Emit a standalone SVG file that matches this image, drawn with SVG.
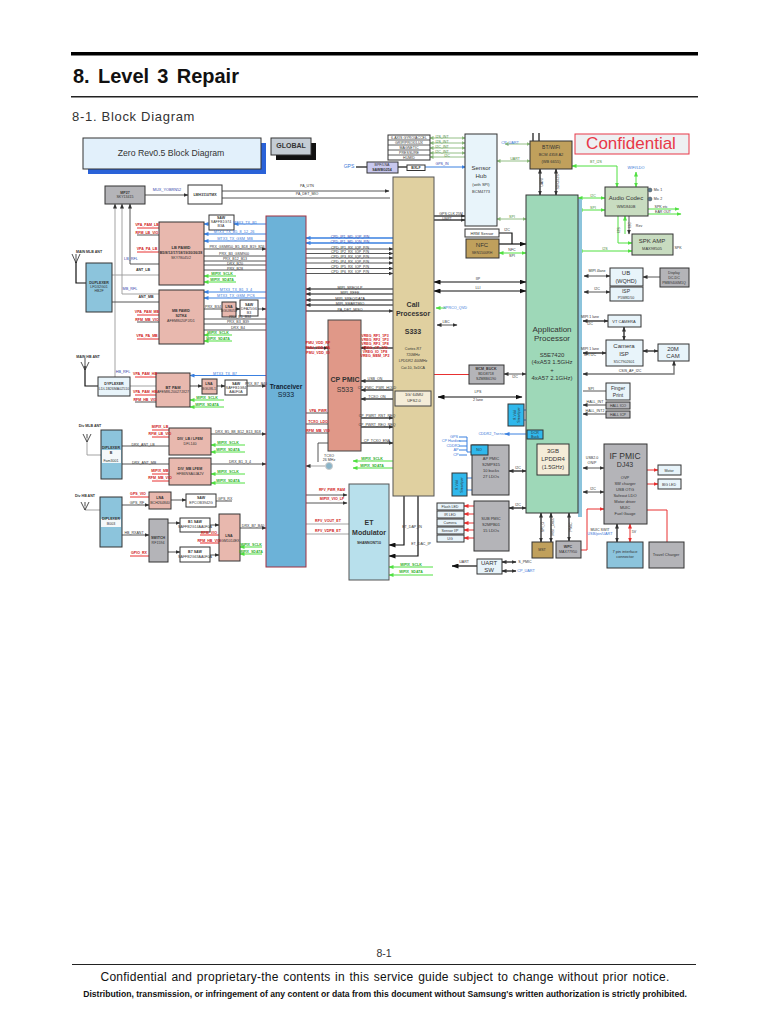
<svg xmlns="http://www.w3.org/2000/svg" width="768" height="1024" viewBox="0 0 768 1024">
<style>
text{font-family:"Liberation Sans",Arial,sans-serif;text-anchor:middle;fill:#333}
.p{text-anchor:start}
.s{font-size:3.6px}
.m{font-size:5px}
.n{font-size:6.5px}
.la{font-size:8px}
.bd{font-weight:bold}
.rt{fill:#d02020;font-size:3.6px;font-weight:bold}
.bt{fill:#3a78d8;font-size:3.8px}
.gt{fill:#30b030;font-size:3.6px;font-weight:bold}
.b{stroke:#333;stroke-width:1}
.pk{fill:#e8b8ae}.bl{fill:#8cc4dc}.gy{fill:#b4b4b8}.wh{fill:#fff}.pale{fill:#e8f4fa}.sg{fill:#c8dcc0}.tan{fill:#c0a05c}.cy{fill:#30b8ec}
#wires path{fill:none}
.d{stroke:#444;stroke-width:.9}
.k{stroke:#111;stroke-width:1.2}
.a{stroke:#999;stroke-width:.9}
.u{stroke:#3a80e0;stroke-width:1}
.ut{stroke:#3a80e0;stroke-width:1.6}
.g{stroke:#50e040;stroke-width:1}
.gg{stroke:#88b878;stroke-width:.9}
.r{stroke:#e83030;stroke-width:1}
</style>
<defs>
<marker id="ad" markerWidth="5" markerHeight="4" refX="4.5" refY="2" orient="auto-start-reverse" markerUnits="userSpaceOnUse"><path d="M0 0L5 2L0 4z" fill="#333"/></marker>
<marker id="ak" markerWidth="7" markerHeight="5" refX="6.5" refY="2.5" orient="auto-start-reverse" markerUnits="userSpaceOnUse"><path d="M0 0L7 2.5L0 5z" fill="#111"/></marker>
<marker id="ab" markerWidth="5" markerHeight="4" refX="4.5" refY="2" orient="auto-start-reverse" markerUnits="userSpaceOnUse"><path d="M0 0L5 2L0 4z" fill="#3a80e0"/></marker>
<marker id="ag" markerWidth="5" markerHeight="4" refX="4.5" refY="2" orient="auto-start-reverse" markerUnits="userSpaceOnUse"><path d="M0 0L5 2L0 4z" fill="#50e040"/></marker>
<marker id="ar" markerWidth="5" markerHeight="4" refX="4.5" refY="2" orient="auto-start-reverse" markerUnits="userSpaceOnUse"><path d="M0 0L5 2L0 4z" fill="#e83030"/></marker>
<marker id="ae" markerWidth="4" markerHeight="4" refX="3.5" refY="2" orient="auto-start-reverse" markerUnits="userSpaceOnUse"><path d="M0 0L4 2L0 4z" fill="#88b878"/></marker>
</defs>

<g id="page">
<rect x="71" y="52" width="627" height="3.5" fill="#000"/>
<rect x="71" y="96" width="627" height="1.5" fill="#222"/>
<text x="73" y="83" class="p bd" style="font-size:20px;word-spacing:2.7px;fill:#111">8. Level 3 Repair</text>
<text x="72" y="121" class="p" style="font-size:13px;letter-spacing:.7px">8-1. Block Diagram</text>
<text x="384" y="957" style="font-size:10.5px">8-1</text>
<rect x="72" y="964" width="624" height="1" fill="#222"/>
<text x="385" y="981" style="font-size:12px;letter-spacing:.25px;word-spacing:1px;fill:#111">Confidential and proprietary-the contents in this service guide subject to change without prior notice.</text>
<text x="385" y="997" class="bd" style="font-size:8.6px;fill:#111">Distribution, transmission, or infringement of any content or data from this document without Samsung's written authorization is strictly prohibited.</text>
</g>

<g id="wires">
<path class="d" d="M145 195H188" marker-end="url(#ad)"/>
<path class="d" d="M222 191H389" marker-end="url(#ad)"/>
<path class="d" d="M222 198H390"/>
<path class="a" d="M115 377V204" marker-end="url(#ad)"/>
<path class="a" d="M159 294H122V204" marker-end="url(#ad)"/>
<path class="d" d="M159 264H130V204" marker-end="url(#ad)"/>
<path class="k" d="M76 262V283H86"/>
<path class="a" d="M112 275H159"/>
<path class="d" d="M112 302H159"/>
<path class="r" d="M137 228H159M137 252H159M137 315H159M137 339H159"/>
<path class="d" d="M137 235H159M137 322H159"/>
<path class="u" d="M266 224H234" marker-end="url(#ab)"/>
<path class="u" d="M209 224H204" marker-end="url(#ab)"/>
<path class="u" d="M266 234H204" marker-end="url(#ab)"/>
<path class="u" d="M266 241H204" marker-end="url(#ab)"/>
<path class="d" d="M204 249H266" marker-end="url(#ad)"/>
<path class="d" d="M204 256H266M204 261H266M204 265H266M204 270H266"/>
<path class="g" d="M236 276H204" marker-end="url(#ag)"/>
<path class="g" d="M236 282H204" marker-end="url(#ag)"/>
<path class="u" d="M266 292H204" marker-end="url(#ab)"/>
<path class="u" d="M266 298H204" marker-end="url(#ab)"/>
<path class="d" d="M204 309H222M236 309H240" marker-end="url(#ad)"/>
<path class="d" d="M258 309H266" marker-end="url(#ad)"/>
<path class="d" d="M204 319H266M204 324H266M204 330H266"/>
<path class="g" d="M232 335H204" marker-end="url(#ag)"/>
<path class="g" d="M232 341H204" marker-end="url(#ag)"/>
<path class="k" d="M85 366V386H98"/>
<path class="a" d="M130 386H156"/>
<path class="u" d="M266 375.5H190" marker-end="url(#ab)"/>
<path class="r" d="M135 377H156M135 395H156"/>
<path class="d" d="M135 402H156"/>
<path class="d" d="M190 386H202" marker-end="url(#ad)"/>
<path class="d" d="M217 386H225" marker-end="url(#ad)"/>
<path class="d" d="M247 386H266" marker-end="url(#ad)"/>
<path class="g" d="M224 400H190" marker-end="url(#ag)"/>
<path class="g" d="M224 407H190" marker-end="url(#ag)"/>
<path class="a" d="M87 438V455H101"/>
<path class="d" d="M122 446H169M122 464H169"/>
<path class="r" d="M152 430H169M152 437H169M152 474H169M152 481H169"/>
<path class="d" d="M211 434H266" marker-end="url(#ad)"/>
<path class="g" d="M245 445H211" marker-end="url(#ag)"/>
<path class="g" d="M245 452H211" marker-end="url(#ag)"/>
<path class="d" d="M211 464H266" marker-end="url(#ad)"/>
<path class="g" d="M245 474H211" marker-end="url(#ag)"/>
<path class="g" d="M245 483H211" marker-end="url(#ag)"/>
<path class="a" d="M85 506V510H100"/>
<path class="r" d="M130 497H149"/>
<path class="d" d="M122 505H149" marker-end="url(#ad)"/>
<path class="d" d="M171 500H186" marker-end="url(#ad)"/>
<path class="d" d="M216 501H232"/>
<path class="d" d="M122 535H149" marker-end="url(#ad)"/>
<path class="d" d="M168 523H180" marker-end="url(#ad)"/>
<path class="d" d="M168 552H180" marker-end="url(#ad)"/>
<path class="r" d="M130 556H149"/>
<path class="r" d="M200 535H219M200 543H219"/>
<path class="d" d="M210 525H219" marker-end="url(#ad)"/>
<path class="d" d="M210 555H219" marker-end="url(#ad)"/>
<path class="d" d="M240 528H266" marker-end="url(#ad)"/>
<path class="g" d="M262 547H240" marker-end="url(#ag)"/>
<path class="g" d="M262 554H240" marker-end="url(#ag)"/>

<path class="ut" d="M393 238H306" marker-end="url(#ab)"/>
<path class="ut" d="M393 243H306" marker-end="url(#ab)"/>
<path class="d" d="M306 249H393" marker-end="url(#ad)"/>
<path class="d" d="M306 253.5H393" marker-end="url(#ad)"/>
<path class="d" d="M306 258H393" marker-end="url(#ad)"/>
<path class="d" d="M306 263H393" marker-end="url(#ad)"/>
<path class="d" d="M306 268.5H393" marker-end="url(#ad)"/>
<path class="d" d="M306 273.5H393" marker-end="url(#ad)"/>
<path class="k" d="M393 289H306" marker-end="url(#ad)"/>
<path class="k" d="M393 294H306" marker-end="url(#ad)"/>
<path class="k" d="M393 300H306" marker-end="url(#ad)"/>
<path class="k" d="M393 305H306" marker-end="url(#ad)"/>
<path class="k" d="M306 311H393" marker-end="url(#ad)"/>
<path class="k" d="M306 348H328" marker-end="url(#ad)"/>
<path class="k" d="M393 348H361" marker-end="url(#ad)"/>
<path class="k" d="M393 381H361" marker-end="url(#ad)"/>
<path class="k" d="M393 390H361" marker-end="url(#ad)"/>
<path class="k" d="M393 399H361" marker-end="url(#ad)"/>
<path class="k" d="M361 418H393" marker-end="url(#ad)"/>
<path class="k" d="M361 427H393" marker-end="url(#ad)"/>
<path class="k" d="M361 443H393" marker-end="url(#ad)"/>
<path class="d" d="M306 413H328M306 424H328M306 433H328"/>
<path class="d" d="M328 443H318V462"/>
<path class="a" d="M325 466H306" marker-end="url(#ad)"/>
<path class="g" d="M393 461H353" marker-end="url(#ag)"/>
<path class="g" d="M393 468H353" marker-end="url(#ag)"/>
<path class="d" d="M306 495H347" marker-end="url(#ad)"/>
<path class="d" d="M306 503H347" marker-end="url(#ad)"/>
<path class="a" d="M306 524H349M306 534H349"/>
<path class="k" d="M404 496V545H389" marker-end="url(#ak)"/>
<path class="k" d="M418 496V556H389" marker-end="url(#ak)"/>
<path class="g" d="M433 567H389" marker-end="url(#ag)"/>
<path class="g" d="M433 575H389" marker-end="url(#ag)"/>

<path class="k" d="M356 167H367"/>
<path class="k" d="M398 167H407"/>
<path class="u" d="M425 167H466" marker-end="url(#ab)"/>
<path class="gg" d="M430 138H465" marker-start="url(#ae)" marker-end="url(#ae)"/>
<path class="gg" d="M430 143H465" marker-start="url(#ae)" marker-end="url(#ae)"/>
<path class="gg" d="M430 148H465" marker-start="url(#ae)" marker-end="url(#ae)"/>
<path class="gg" d="M430 153H465" marker-start="url(#ae)" marker-end="url(#ae)"/>
<path class="gg" d="M430 157H465" marker-start="url(#ae)"/>
<path class="k" d="M434 216H465" marker-end="url(#ad)"/>
<path class="k" d="M434 220H465" marker-end="url(#ad)"/>
<path class="k" d="M434 282H526" marker-end="url(#ak)" marker-start="url(#ak)"/>
<path class="k" d="M434 291H526" marker-end="url(#ak)" marker-start="url(#ak)"/>
<path class="g" d="M436 308H446" marker-start="url(#ag)"/>
<path class="d" d="M437 325H457" marker-start="url(#ad)" marker-end="url(#ad)"/>
<path class="gg" d="M505 144H530" marker-start="url(#ae)" marker-end="url(#ae)"/>
<path class="gg" d="M497 161H530" marker-start="url(#ae)" marker-end="url(#ae)"/>
<path class="k" d="M540 169V195" marker-start="url(#ad)" marker-end="url(#ad)"/>
<path class="k" d="M556 169V195" marker-start="url(#ad)" marker-end="url(#ad)"/>
<path class="k" d="M533 141V133M539 141V133" />
<path class="g" d="M572 166H617V187" marker-start="url(#ag)" marker-end="url(#ag)"/>
<path class="g" d="M636 172V187" marker-start="url(#ag)" marker-end="url(#ag)"/>
<path class="g" d="M578 198H605" marker-start="url(#ag)" marker-end="url(#ag)"/>
<path class="g" d="M578 210H605" marker-start="url(#ag)" marker-end="url(#ag)"/>
<path class="g" d="M618 216V243H632" marker-end="url(#ag)"/>
<path class="g" d="M625 234V216" marker-end="url(#ag)"/>
<path class="d" d="M629 216V234" marker-end="url(#ad)"/>
<path class="g" d="M648 209H679" marker-end="url(#ag)"/>
<path class="g" d="M648 214H681" marker-end="url(#ag)"/>
<path class="g" d="M578 251H632" marker-start="url(#ag)" marker-end="url(#ag)"/>
<path class="gg" d="M497 219H526" marker-start="url(#ae)" marker-end="url(#ae)"/>
<path class="k" d="M499 233H512V244" />
<path class="k" d="M499 244H526" marker-end="url(#ak)"/>
<path class="g" d="M499 253H526" marker-start="url(#ag)" marker-end="url(#ag)"/>
<path class="d" d="M584 276H610" marker-start="url(#ad)" marker-end="url(#ad)"/>
<path class="d" d="M584 292H610" marker-start="url(#ad)" marker-end="url(#ad)"/>
<path class="d" d="M660 277H643" marker-end="url(#ad)"/>
<path class="k" d="M583 321H608" marker-start="url(#ad)" marker-end="url(#ad)"/>
<path class="k" d="M624 327V340" marker-start="url(#ad)" marker-end="url(#ad)"/>
<path class="k" d="M583 353H606" marker-start="url(#ad)" marker-end="url(#ad)"/>
<path class="k" d="M643 351H658" marker-start="url(#ad)" marker-end="url(#ad)"/>
<path class="d" style="stroke-width:1.4;stroke:#777" d="M583 374H674V361" marker-start="url(#ad)" marker-end="url(#ad)"/>
<path class="d" d="M504 374H526" marker-start="url(#ad)" marker-end="url(#ad)"/>
<path class="r" d="M469 374.5H413V391" marker-end="url(#ar)"/>
<path class="k" d="M438 397H522" marker-start="url(#ak)" marker-end="url(#ak)"/>
<path class="d" d="M583 391H606"/>
<path class="d" d="M606 405H583" marker-end="url(#ad)"/>
<path class="d" d="M606 414H583" marker-end="url(#ad)"/>
<path class="u" d="M524 410H526M524 420H526"/>
<path class="u" d="M527 434H505" marker-end="url(#ab)"/>
<path class="u" d="M471 452H467V437H459M467 441H459M467 446H459M467 450H459M467 455H459"/>
<path class="u" d="M467 478H472M467 490H472"/>
<path class="k" d="M509 471H526" marker-start="url(#ad)" marker-end="url(#ad)"/>
<path class="k" d="M509 508H526" marker-start="url(#ad)" marker-end="url(#ad)"/>
<path class="r" d="M474 506H464" marker-end="url(#ar)"/>
<path class="r" d="M474 514H464" marker-end="url(#ar)"/>
<path class="r" d="M474 523H464" marker-end="url(#ar)"/>
<path class="r" d="M474 530H464" marker-end="url(#ar)"/>
<path class="r" d="M474 538H464" marker-end="url(#ar)"/>
<path class="d" d="M583 468H604" marker-start="url(#ad)" marker-end="url(#ad)"/>
<path class="d" d="M583 492H604" marker-start="url(#ad)" marker-end="url(#ad)"/>
<path class="r" d="M647 470H658" marker-end="url(#ar)"/>
<path class="r" d="M647 484H658" marker-end="url(#ar)"/>
<path class="k" d="M617 524V542" marker-start="url(#ad)" marker-end="url(#ad)"/>
<path class="r" d="M630 524V542" marker-start="url(#ar)" marker-end="url(#ar)"/>
<path class="r" d="M647 510H667V542"/>
<path class="r" d="M581 550H587V509H604" marker-end="url(#ar)"/>
<path class="k" d="M541 513V542" marker-start="url(#ad)" marker-end="url(#ad)"/>
<path class="k" d="M551 513V542" marker-start="url(#ad)" marker-end="url(#ad)"/>
<path class="k" d="M569 513V541" marker-start="url(#ad)" marker-end="url(#ad)"/>
<path class="k" d="M477 566H452" marker-end="url(#ak)"/>
<path class="k" d="M502 562H516" marker-start="url(#ad)" marker-end="url(#ad)"/>
<path class="k" d="M502 571H516" marker-start="url(#ad)" marker-end="url(#ad)"/>
</g>

<g id="ants" fill="none" stroke="#222" stroke-width=".8">
<path d="M76 263V254M72 254L76 263L80 254"/>
<path d="M85 368V358M81 362L85 370L89 362"/>
<path d="M87 438V434M83 434L87 442L91 434"/>
<path d="M85 506V502M81 502L85 510L89 502"/>
</g>

<g id="titlebox"><rect x="88" y="143" width="178" height="31" fill="#2a62d8"/><rect class="b" x="83" y="138" width="178" height="31" fill="#e2f0fb"/><text x="171" y="156" style="font-size:8.700px">Zero Rev0.5 Block Diagram</text></g>
<g id="global"><rect x="276" y="143" width="40" height="17" fill="#111"/><rect class="b" x="271" y="138" width="40" height="17" fill="#c4ccd4"/><text x="291" y="148" class="bd" style="font-size:7px">GLOBAL</text></g>
<g id="mp27"><rect class="gy b" x="105" y="186" width="40" height="18"/><text x="125" y="194" class="s bd">MP27</text><text x="125" y="198" class="s">SKY13415</text></g>
<g id="lm"><rect class="wh b" x="188" y="185" width="34" height="19"/><text x="205" y="196" class="s bd">LMH3110TMX</text></g>
<g id="lbpamid"><rect class="pk b" x="159" y="222" width="45" height="63"/><text x="181" y="249" class="m bd" style="font-size:4px">LB PAMID</text><text x="181" y="254" class="s bd">B5/8/12/17/18/19/20/26/28</text><text x="181" y="259" class="s">SKY78045/2</text></g>
<g id="mbpamid"><rect class="pk b" x="159" y="290" width="45" height="54"/><text x="181" y="312" class="s bd">MB PAMID</text><text x="181" y="317" class="s bd">S2TK4</text><text x="181" y="322" class="s">AFEM8020PJ/D1</text></g>
<g id="saw1"><rect class="wh b" x="209" y="215" width="25" height="15"/><text x="221" y="219" class="s bd">SAW</text><text x="221" y="223" class="s">SAFFB1G74</text><text x="221" y="227" class="s">B3A</text></g>
<g id="lna1"><rect class="pk b" x="222" y="302" width="14" height="15"/><text x="229" y="308" class="s bd">LNA</text><text x="229" y="312" class="s">BGU8051</text></g>
<g id="saw2"><rect class="wh b" x="240" y="300" width="18" height="16"/><text x="249" y="306" class="s bd">SAW</text><text x="249" y="310" class="s">DFA25G6</text><text x="249" y="314" class="s">B3</text></g>
<g id="dup1"><rect class="bl b" x="86" y="263" width="26" height="49"/><text x="99" y="284" class="s bd">DUPLEXER</text><text x="99" y="288" class="s">LFD32G01</text><text x="99" y="292" class="s">HB2F</text></g>
<g id="trx"><rect x="266" y="216" width="40" height="351" fill="#6cb2d8" stroke="#a03040"/><text x="286" y="389" class="n bd" style="fill:#123">Tranceiver</text><text x="286" y="397" class="n" style="fill:#123;font-size:7px">S933</text></g>
<g id="dup2"><rect class="pale b" x="98" y="377" width="32" height="19"/><text x="114" y="385" class="s bd">DYPLEXER</text><text x="114" y="390" class="s">LDL1B26MA02510</text></g>
<g id="btpam"><rect class="pk b" x="156" y="373" width="34" height="34"/><text x="173" y="389" class="m bd" style="font-size:4px">BT PAM</text><text x="173" y="393" class="s">AFEM8L20027JX27</text></g>
<g id="lna2"><rect class="pk b" x="202" y="379" width="15" height="15"/><text x="209" y="385" class="s bd">LNA</text><text x="209" y="390" class="s">BGU8L1</text></g>
<g id="saw3"><rect class="wh b" x="225" y="380" width="22" height="15"/><text x="236" y="385" class="s bd">SAW</text><text x="236" y="389" class="s">SAFFB1G84</text><text x="236" y="393" class="s">AA0F0A</text></g>
<g id="dup3"><rect class="bl b" x="101" y="430" width="21" height="49"/><rect x="102" y="450" width="19" height="13" fill="#f4f8fa"/><text x="111" y="449" class="s bd">DIPLEXER</text><text x="111" y="454" class="s bd">B</text><text x="111" y="462" class="s">Fam3001</text></g>
<g id="divlb"><rect class="pk b" x="169" y="428" width="42" height="27"/><text x="190" y="440" class="s bd">DIV_LB / LFEM</text><text x="190" y="445" class="s">DFL140</text></g>
<g id="divmb"><rect class="pk b" x="169" y="458" width="42" height="27"/><text x="190" y="470" class="s bd">DIV_MB LFEM</text><text x="190" y="475" class="s">HFB6NSA0JA2V</text></g>
<g id="dup4"><rect class="bl b" x="100" y="497" width="22" height="50"/><rect x="101" y="519" width="20" height="8" fill="#f4f8fa"/><text x="111" y="520" class="s bd">DIPLEXER</text><text x="111" y="525" class="s">B003</text></g>
<g id="lna3"><rect class="pk b" x="149" y="492" width="22" height="17"/><text x="160" y="499" class="s bd">LNA</text><text x="160" y="504" class="s">BCH264840</text></g>
<g id="saw4"><rect class="wh b" x="186" y="494" width="30" height="13"/><text x="201" y="499" class="s bd">SAW</text><text x="201" y="504" class="s">EPCOB3942G</text></g>
<g id="switch"><rect class="gy b" x="149" y="519" width="19" height="43"/><text x="158" y="539" class="s bd">SWITCH</text><text x="158" y="544" class="s">RF1594</text></g>
<g id="b1saw"><rect class="wh b" x="180" y="518" width="30" height="14"/><text x="195" y="523" class="s bd">B1 SAW</text><text x="195" y="528" class="s">SAFFB2G14AA0F0A</text></g>
<g id="b7saw"><rect class="wh b" x="180" y="547" width="30" height="15"/><text x="195" y="553" class="s bd">B7 SAW</text><text x="195" y="558" class="s">SAFFB2G63AA0F0A</text></g>
<g id="lna4"><rect class="pk b" x="219" y="514" width="21" height="47"/><text x="229" y="537" class="s bd">LNA</text><text x="229" y="542" class="s">BGM1014EX</text></g>

<g id="cppmic"><rect x="328" y="320" width="33" height="131" fill="#e09888" stroke="#444"/><text x="345" y="382" class="n bd" style="font-size:7px">CP PMIC</text><text x="345" y="392" class="n" style="font-size:7px">S533</text></g>
<g id="callp"><rect x="393" y="177" width="41" height="319" fill="#e0d0a0" stroke="#555"/><text x="413" y="307" class="n bd" style="font-size:7px">Call</text><text x="413" y="316" class="n bd" style="font-size:7px">Processor</text><text x="413" y="334" class="n bd" style="font-size:7px">S333</text><text x="413" y="350" class="s">Cortex-R7</text><text x="413" y="356" class="s">720MHz</text><text x="413" y="362" class="s">LPDDR2 400MHz</text><text x="413" y="369" class="s">Cat.10, 3xDCA</text></g>
<g id="tsv"><rect x="395" y="391" width="36" height="15" fill="#f4ecd8" stroke="#444"/><text x="414" y="396" class="s" style="font-size:4px">1G/ 64MU</text><text x="414" y="402" class="s" style="font-size:4px">UFS2.0</text></g>
<g id="et"><rect x="349" y="484" width="40" height="96" fill="#b8e0ec" stroke="#555"/><text x="369" y="525" class="n bd" style="font-size:7px">ET</text><text x="369" y="535" class="n bd" style="font-size:7px">Modulator</text><text x="369" y="544" class="s bd">SHANNON710</text></g>
<g id="tcxo"><circle cx="329" cy="466" r="3.5" fill="#8ab4c8" stroke="#ccc"/><text x="329" y="457" class="s">TCXO</text><text x="329" y="461" class="s">26 MHz</text></g>
<g id="sensors"><rect class="wh b" x="388" y="135" width="42" height="25"/><path d="M388 140H430M388 145H430M388 150H430M388 155H430" stroke="#333" stroke-width=".8"/><text x="409" y="139" class="s">6-AXIS GYRO/ACCEL</text><text x="409" y="144" class="s">GRIP/PROX/LUX</text><text x="409" y="149" class="s">MAGNETIC</text><text x="409" y="154" class="s">PRESSURE</text><text x="409" y="159" class="s">HUMID</text></g>
<g id="gpsf"><rect x="367" y="162" width="31" height="11" fill="#c8c8ee" stroke="#333"/><text x="382" y="166" class="s">BPF/LNA</text><text x="382" y="171" class="s bd">SAWBG254</text></g>
<g id="gpsb"><rect class="wh b" x="407" y="165" width="18" height="5.500"/><text x="416" y="169.200" class="s bd">BXLF</text></g>
<g id="hub"><rect class="pale b" x="465" y="134" width="32" height="92"/><text x="481" y="170" class="m" style="font-size:6px">Sensor</text><text x="481" y="178" class="m" style="font-size:6px">Hub</text><text x="481" y="186" class="s" style="font-size:4px">(with SPI)</text><text x="481" y="193" class="s" style="font-size:4px">BCM4773</text></g>
<g id="hrm"><rect class="wh b" x="465" y="229" width="34" height="8"/><text x="482" y="235" class="s" style="font-size:4px">HRM Sensor</text></g>
<g id="nfc"><rect class="tan b" x="466" y="239" width="33" height="19"/><text x="482" y="247" class="m" style="font-size:6px">NFC</text><text x="482" y="254" class="s">SEN1500RH</text></g>
<g id="bt"><rect class="tan b" x="530" y="141" width="42" height="28"/><text x="551" y="149" class="m">BT/WiFi</text><text x="551" y="156" class="s" style="font-size:4px">BCM 4358 A2</text><text x="551" y="163" class="s" style="font-size:4px">(WB 6655)</text></g>
<g id="conf"><rect x="575" y="134" width="114" height="20" fill="#eef0f2" stroke="#e83848" stroke-width="1"/><text x="631" y="149" style="font-size:17px;fill:#e83848">Confidential</text></g>
<g id="codec"><rect class="sg b" x="605" y="187" width="43" height="29"/><text x="626" y="200" class="m" style="font-size:6px">Audio Codec</text><text x="626" y="208" class="s" style="font-size:4px">WM1840B</text></g>
<g id="spk"><rect class="sg b" x="632" y="234" width="41" height="21"/><text x="652" y="243" class="m" style="font-size:6px">SPK AMP</text><text x="652" y="250" class="s" style="font-size:4px">MAX98505</text></g>
<g id="ap"><rect x="578" y="199" width="4" height="318" fill="#8cc4dc"/><rect x="526" y="195" width="52" height="318" fill="#9ed8b8" stroke="#333"/><text x="552" y="332" class="n" style="font-size:8px">Application</text><text x="552" y="341" class="n" style="font-size:8px">Processor</text><text x="552" y="357" class="m" style="font-size:6px">S5E7420</text><text x="552" y="364" class="m" style="font-size:6px">(4xA53 1.5GHz</text><text x="552" y="372" class="m" style="font-size:6px">+</text><text x="552" y="380" class="m" style="font-size:6px">4xA57 2.1GHz)</text></g>
<g id="ub"><rect class="pale b" x="610" y="268" width="33" height="18"/><text x="626" y="275" class="m" style="font-size:6px">UB</text><text x="626" y="283" class="m" style="font-size:5.500px">(WQHD)</text></g>
<g id="isp1"><rect class="pale b" x="610" y="287" width="33" height="14"/><text x="626" y="293" class="m">ISP</text><text x="626" y="299" class="s">P5W8D50</text></g>
<g id="disp"><rect class="gy b" x="660" y="268" width="29" height="19"/><text x="674" y="274" class="s">Display</text><text x="674" y="279" class="s">DC-DC</text><text x="674" y="284" class="s">PMB9406M1Q</text></g>
<g id="vt"><rect class="pale b" x="608" y="315" width="33" height="12"/><text x="624" y="323" class="s" style="font-size:4px">VT CAMERA</text></g>
<g id="camisp"><rect class="pale b" x="606" y="340" width="37" height="26"/><text x="624" y="348" class="m" style="font-size:6px">Camera</text><text x="624" y="356" class="m" style="font-size:6px">ISP</text><text x="624" y="363" class="s">S5C7902601</text></g>
<g id="cam"><rect class="pale b" x="658" y="344" width="31" height="17"/><text x="673" y="351" class="m" style="font-size:6px">20M</text><text x="673" y="358" class="m" style="font-size:6px">CAM</text></g>
<g id="mcm"><rect class="gy b" x="469" y="365" width="35" height="19"/><text x="486" y="370" class="s bd">MCM_BUCK</text><text x="486" y="375" class="s">BDD8718</text><text x="486" y="380" class="s">SZM8B6190</text></g>
<g id="finger"><rect class="pale b" x="606" y="383" width="24" height="17"/><text x="618" y="390" class="m">Finger</text><text x="618" y="397" class="m">Print</text></g>
<g id="hall1"><rect class="gy b" x="606" y="402" width="24" height="7"/><text x="618" y="407" class="s">HALL ICO</text></g>
<g id="hall2"><rect class="gy b" x="606" y="411" width="24" height="7"/><text x="618" y="416" class="s">HALL ICP</text></g>
<g id="bb1"><rect class="cy b" x="508" y="404" width="16" height="22"/><text x="516" y="415" class="s" transform="rotate(-90 516 415)">8-Vdd</text><text x="520" y="415" class="s" transform="rotate(-90 520 415)">Smartpwr</text></g>
<g id="bb2"><rect class="cy b" x="527" y="430" width="16" height="9"/><text x="535" y="434" class="s">DCR</text><text x="535" y="438" class="s">Buck</text></g>
<g id="ram"><rect x="537" y="444" width="32" height="31" fill="#f4ecd8" stroke="#333"/><text x="553" y="453" class="m" style="font-size:6px">3GB</text><text x="553" y="461" class="m" style="font-size:6px">LPDDR4</text><text x="553" y="469" class="m" style="font-size:5.500px">(1.5GHz)</text></g>
<g id="ifpmic"><rect class="gy b" x="604" y="444" width="43" height="80"/><text x="625" y="459" class="n" style="font-size:8.500px">IF PMIC</text><text x="625" y="467" class="m" style="font-size:7px">DJ43</text><text x="625" y="479" class="s" style="font-size:4px">OVP</text><text x="625" y="485" class="s" style="font-size:4px">SW charger</text><text x="625" y="491" class="s" style="font-size:4px">USB OTG</text><text x="625" y="497" class="s" style="font-size:4px">Safeout LDO</text><text x="625" y="503" class="s" style="font-size:4px">Motor driver</text><text x="625" y="509" class="s" style="font-size:4px">MUIC</text><text x="625" y="515" class="s" style="font-size:4px">Fuel Gauge</text></g>
<g id="motor"><rect class="pale b" x="658" y="465" width="23" height="10"/><text x="669" y="471.500" class="s">Motor</text></g>
<g id="led"><rect class="pale b" x="658" y="479" width="23" height="10"/><text x="669" y="485.500" class="s">BIG LED</text></g>
<g id="appmic"><rect class="gy b" x="472" y="445" width="37" height="50"/><text x="491" y="460" class="s" style="font-size:4px">AP PMIC</text><text x="491" y="466" class="s" style="font-size:4px">S2MPS15</text><text x="491" y="472" class="s" style="font-size:4px">10 bucks</text><text x="491" y="478" class="s" style="font-size:4px">27 LDOs</text></g>
<g id="bb3"><rect class="cy b" x="471" y="445" width="17" height="10"/><text x="479" y="451" class="s">NO</text></g>
<g id="bb4"><rect class="cy b" x="452" y="473" width="15" height="23"/><text x="458" y="485" class="s" transform="rotate(-90 458 485)">8-Vdd</text><text x="463" y="485" class="s" transform="rotate(-90 463 485)">Smartpwr</text></g>
<g id="subpmic"><rect class="gy b" x="474" y="501" width="35" height="50"/><text x="491" y="520" class="s" style="font-size:4px">SUB PMIC</text><text x="491" y="526" class="s" style="font-size:4px">S2MPB01</text><text x="491" y="532" class="s" style="font-size:4px">15 LDOs</text></g>
<g id="flash"><rect class="pale b" x="437" y="503" width="27" height="7"/><text x="450" y="508" class="s">Flash LED</text></g>
<g id="irled"><rect class="pale b" x="437" y="511" width="27" height="7"/><text x="450" y="516" class="s">IR LED</text></g>
<g id="camera"><rect class="pale b" x="437" y="519" width="27" height="7"/><text x="450" y="524" class="s">Camera</text></g>
<g id="sensorip"><rect class="pale b" x="437" y="527" width="27" height="7"/><text x="450" y="532" class="s">Sensor I/P</text></g>
<g id="ug"><rect class="pale b" x="437" y="535" width="27" height="7"/><text x="450" y="540" class="s">UG</text></g>
<g id="mst"><rect class="tan b" x="532" y="542" width="21" height="16"/><text x="542" y="551" class="s">MST</text></g>
<g id="wpc"><rect class="gy b" x="556" y="541" width="25" height="17"/><text x="568" y="548" class="s bd">WPC</text><text x="568" y="553" class="s">MAX77950</text></g>
<g id="pin7"><rect class="bl b" x="607" y="542" width="36" height="26"/><text x="625" y="553" class="s" style="font-size:4px">7 pin interface</text><text x="625" y="558" class="s" style="font-size:4px">connector</text></g>
<g id="travel"><rect class="gy b" x="649" y="542" width="35" height="26"/><text x="666" y="556" class="s" style="font-size:4px">Travel Charger</text></g>
<g id="uartsw"><rect class="pale b" x="477" y="559" width="25" height="15"/><text x="489" y="565" class="m" style="font-size:6px">UART</text><text x="489" y="572" class="m" style="font-size:6px">SW</text></g>

<g id="labels">
<text x="167" y="191" class="bt" style="fill:#3344aa">MUX_YOBRN52</text>
<text x="307" y="186.500" class="s">PA_UTN</text>
<text x="307" y="195" class="s">PA_DET_MIO</text>
<text x="131" y="260" class="bt" style="fill:#3344aa">LB_RFL</text>
<text x="130" y="290" class="bt" style="fill:#3344aa">MB_RFL</text>
<text x="89" y="253" class="s bd">MAIN MLB ANT</text>
<text x="143" y="271" class="s bd">ANT_LB</text>
<text x="146" y="298" class="s bd">ANT_MB</text>
<text x="147" y="226" class="rt">VPA_PAM_LB</text>
<text x="147" y="234" class="rt">RFM_LB_VIO</text>
<text x="147" y="250" class="rt">VPA_PA_LB</text>
<text x="147" y="313" class="rt">VPA_PAM_MB</text>
<text x="147" y="321" class="rt">RFM_MB_VIO</text>
<text x="147" y="337" class="rt">VPA_PA_MB</text>
<text x="245" y="224" class="bt">MTX3_TX_B1</text>
<text x="234" y="233" class="bt">MTX3_TX_B5_8_12_26</text>
<text x="235" y="240" class="bt">MTX3_TX_GSM_MB</text>
<text x="237" y="248" class="s">PRX_GSM850_B5_B18_B19_B26</text>
<text x="234" y="255" class="s">PRX_B3_GSM900</text>
<text x="235" y="260" class="s">PRX_B12_B13</text>
<text x="235" y="265" class="s">DRX_B20</text>
<text x="235" y="269.500" class="s">PRX_B28</text>
<text x="222" y="274.500" class="gt">MIPIX_SCLK</text>
<text x="222" y="280.500" class="gt">MIPIX_SDATA</text>
<text x="236" y="291" class="bt">MTX3_TX_B1_3_4</text>
<text x="236" y="297" class="bt">MTX3_TX_GSM_PCS</text>
<text x="213" y="308" class="s">PRX_B34</text>
<text x="240" y="318" class="s">PRX_B1_B34</text>
<text x="238" y="323" class="s">PRX_B3_B39</text>
<text x="238" y="329" class="s">DRX_B4</text>
<text x="218" y="333.500" class="gt">MIPIX_SCLK</text>
<text x="218" y="339.500" class="gt">MIPIX_SDATA</text>
<text x="88" y="358" class="s bd">MAIN HB ANT</text>
<text x="123" y="373" class="bt" style="fill:#3344aa">HB_RFL</text>
<text x="145" y="375" class="rt">VPA_PAM_HB</text>
<text x="145" y="393" class="rt">VPA_PAM_HB</text>
<text x="145" y="401" class="rt">RFM_HB_VIO</text>
<text x="225" y="374.500" class="bt">MTX3_TX_B7</text>
<text x="256" y="385" class="s">PRX_B7_B40</text>
<text x="207" y="398.500" class="gt">MIPIX_SCLK</text>
<text x="207" y="405.500" class="gt">MIPIX_SDATA</text>
<text x="90" y="427" class="s bd">Div MLB ANT</text>
<text x="143" y="445.500" class="s">DRX_ANT_LB</text>
<text x="144" y="463.500" class="s">DRX_ANT_MB</text>
<text x="160" y="428" class="rt">MIPIX_LB</text>
<text x="160" y="435" class="rt">RFM_LB_VIO</text>
<text x="160" y="472" class="rt">MIPIX_MB</text>
<text x="160" y="479" class="rt">RFM_MB_VIO</text>
<text x="238" y="433" class="s">DRX_B5_B8_B12_B13_B18</text>
<text x="228" y="443.500" class="gt">MIPIX_SCLK</text>
<text x="228" y="450.500" class="gt">MIPIX_SDATA</text>
<text x="240" y="463" class="s">DRX_B1_3_4</text>
<text x="228" y="472.500" class="gt">MIPIX_SCLK</text>
<text x="228" y="481.500" class="gt">MIPIX_SDATA</text>
<text x="85" y="497" class="s bd">Div HB ANT</text>
<text x="138" y="495" class="rt">GPS_VIO</text>
<text x="137" y="504" class="s">GPS_RF</text>
<text x="225" y="500" class="s">GPS_RX</text>
<text x="134" y="534" class="s">HB_RXANT</text>
<text x="139" y="554" class="rt">GPIO_RX</text>
<text x="209" y="533.500" class="rt">RFM_VIO</text>
<text x="209" y="541.500" class="rt">RFM_HB_VIO</text>
<text x="253" y="527" class="s">DRX_B7_B40</text>
<text x="251" y="545.500" class="gt">MIPIX_SCLK</text>
<text x="251" y="552.500" class="gt">MIPIX_SDATA</text>
<text x="350" y="237.500" class="s" style="fill:#3344aa">CPD_IP1_MD_IQP_P/N</text>
<text x="350" y="242.500" class="s" style="fill:#3344aa">CPD_IP1_MD_IQN_P/N</text>
<text x="350" y="248.500" class="s">CPD_IP1_RX_IQP_P/N</text>
<text x="350" y="253" class="s">CPD_IP2_RX_IQP_P/N</text>
<text x="350" y="257.500" class="s">CPD_IP3_RX_IQP_P/N</text>
<text x="350" y="262.500" class="s">CPD_IP4_RX_IQP_P/N</text>
<text x="350" y="268" class="s">CPD_IP5_RX_IQP_P/N</text>
<text x="350" y="273" class="s">CPD_IP6_RX_IQP_P/N</text>
<text x="350" y="288.500" class="s">MIPI_SREQ/LP</text>
<text x="350" y="293.500" class="s">MIPI_RFFE</text>
<text x="350" y="299.500" class="s">MIPI_SREQ/DATA</text>
<text x="350" y="304.500" class="s">MIPI_SMARTMIO</text>
<text x="350" y="310.500" class="s">PA_DET_MISO</text>
<text x="318" y="344" class="rt">PMU_VDD_RF</text>
<text x="318" y="349" class="rt">PMU_VDD_PA</text>
<text x="318" y="354" class="rt">PMU_VDD_IO</text>
<text x="375" y="337" class="rt">VREG_RF1_1P3</text>
<text x="375" y="341" class="rt">VREG_RF2_1P3</text>
<text x="375" y="345" class="rt">VREG_RF3_1P8</text>
<text x="375" y="349" class="rt">VREG_CP_1P0</text>
<text x="375" y="353" class="rt">VREG_IO_1P8</text>
<text x="375" y="357" class="rt">VREG_MEM_1P2</text>
<text x="375" y="380" class="s">USB_ON</text>
<text x="377" y="389" class="s">CP_PMIC_PWR_HOLD</text>
<text x="377" y="398" class="s">TCXO_ON</text>
<text x="377" y="417" class="s">CP_PWRT_RST_REQ</text>
<text x="377" y="426" class="s">CP_PWRT_REQ_REQ</text>
<text x="377" y="442" class="s">CP_TCXO_ENA</text>
<text x="318" y="412" class="rt">VPA_PWR</text>
<text x="318" y="423" class="rt">TCXO_LDO</text>
<text x="318" y="432" class="rt">RFM_MB_VIO</text>
<text x="372" y="459.500" class="gt">MIPIX_SCLK</text>
<text x="372" y="466.500" class="gt">MIPIX_SDATA</text>
<text x="332" y="491" class="rt" style="font-size:3.400px">RFV_PWR_RAM</text>
<text x="332" y="500" class="rt">MIPIX_VIO_LP</text>
<text x="328" y="522" class="rt">RFV_VOUT_ET</text>
<text x="328" y="532" class="rt">RFV_VDPB_ET</text>
<text x="412" y="528" class="s">ET_DAP_IN</text>
<text x="421" y="545" class="s">ET_DAC_IP</text>
<text x="411" y="565.500" class="gt">MIPIX_SCLK</text>
<text x="411" y="573" class="gt">MIPIX_SDATA</text>
<text x="349" y="168" class="bt" style="font-size:5px">GPS</text>
<text x="442" y="165" class="s" style="fill:#3344aa">GPS_IN</text>
<text x="442" y="138" class="s" style="fill:#4a8a3a">I2S_INT</text>
<text x="442" y="143" class="s" style="fill:#4a8a3a">I2S_INT</text>
<text x="442" y="148" class="s" style="fill:#4a8a3a">I2C_INT</text>
<text x="442" y="153" class="s" style="fill:#4a8a3a">I2C_INT</text>
<text x="447" y="156.500" class="s" style="fill:#4a8a3a">I2C</text>
<text x="451" y="215" class="s">GPS CLK 25M</text>
<text x="447" y="219.500" class="s">USPT</text>
<text x="478" y="279.500" class="s">IIP</text>
<text x="478" y="289" class="s">LLI</text>
<text x="455" y="309" class="bt">XPRCO_QVD</text>
<text x="446" y="323" class="s">LBC</text>
<text x="510" y="144" class="bt">CP_UART</text>
<text x="515" y="159.500" class="s" style="fill:#4a8a3a">UART</text>
<text x="543" y="182" class="s" transform="rotate(-90 543 182)">UART</text>
<text x="559" y="182" class="s" transform="rotate(-90 559 182)">SDIO/I2S</text>
<text x="596" y="163" class="s" style="fill:#4a8a3a">BT_I2S</text>
<text x="636" y="169" class="bt">WIFI/LDO</text>
<text x="593" y="197" class="s" style="fill:#4a8a3a">I2C</text>
<text x="593" y="209" class="s" style="fill:#4a8a3a">SPI</text>
<text x="620" y="230" class="s" transform="rotate(-90 620 230)">I2S</text>
<text x="631" y="225" class="s" transform="rotate(-90 631 225)">I2C</text>
<text x="639" y="227" class="s">Rev</text>
<text x="658" y="191" class="s">Mic 1</text>
<text x="658" y="200" class="s">Mic 2</text>
<circle cx="650" cy="190" r="2" fill="#5a7a90" stroke="#333" stroke-width=".4"/>
<circle cx="650" cy="199" r="2" fill="#5a7a90" stroke="#333" stroke-width=".4"/>
<text x="661" y="207.500" class="s">SPK etc</text>
<text x="663" y="212.500" class="s">EAR OUT</text>
<text x="605" y="250" class="s" style="fill:#4a8a3a">I2S</text>
<text x="678" y="249" class="s">SPK</text>
<text x="512" y="218" class="s" style="fill:#4a8a3a">SPI</text>
<text x="507" y="231" class="s">I2C</text>
<text x="512" y="251" class="s">NFC</text>
<text x="512" y="257" class="s">SPI</text>
<text x="597" y="272" class="s">MIPI 4lane</text>
<text x="597" y="290" class="s">I2C</text>
<text x="590" y="318" class="s">MIPI 1 lane</text>
<text x="590" y="325" class="s">I2C</text>
<text x="590" y="350" class="s">MIPI 1 lane</text>
<text x="590" y="356" class="s">SPI I2C</text>
<text x="630" y="372" class="s">CSIS_AF_I2C</text>
<text x="515" y="378" class="s">I2C</text>
<text x="478" y="393" class="s">LPS</text>
<text x="478" y="401" class="s">2 lane</text>
<text x="591" y="390" class="s">SPI</text>
<text x="595" y="403" class="s">HALL_INT</text>
<text x="595" y="412" class="s">HALL_INT2</text>
<text x="492" y="435" class="bt">CDDR2_Tsense</text>
<text x="454" y="437.500" class="bt">GPS</text>
<text x="451" y="441.500" class="bt">CP Hardon</text>
<text x="453" y="447" class="bt">CDDR2</text>
<text x="456" y="451" class="bt">AP</text>
<text x="456" y="456" class="bt">CP</text>
<text x="518" y="469" class="s">I2C</text>
<text x="518" y="506" class="s">I2C</text>
<text x="592" y="459" class="s">USB2.0</text>
<text x="592" y="464" class="s">ON/P</text>
<text x="593" y="490" class="s">I2C</text>
<text x="600" y="531" class="s">MUIC SWIT</text>
<text x="600" y="535" class="bt">USB/pin/UART</text>
<text x="634" y="533" class="s">5V</text>
<text x="544" y="527" class="s" transform="rotate(-90 544 527)">SPI_G</text>
<text x="554" y="527" class="s" transform="rotate(-90 554 527)">MST_Data</text>
<text x="572" y="527" class="s" transform="rotate(-90 572 527)">PMIC</text>
<text x="464" y="563" class="s">UART</text>
<text x="525" y="563" class="s">S_PMIC</text>
<text x="526" y="572" class="bt">CP_UART</text>
</g>
</svg>
